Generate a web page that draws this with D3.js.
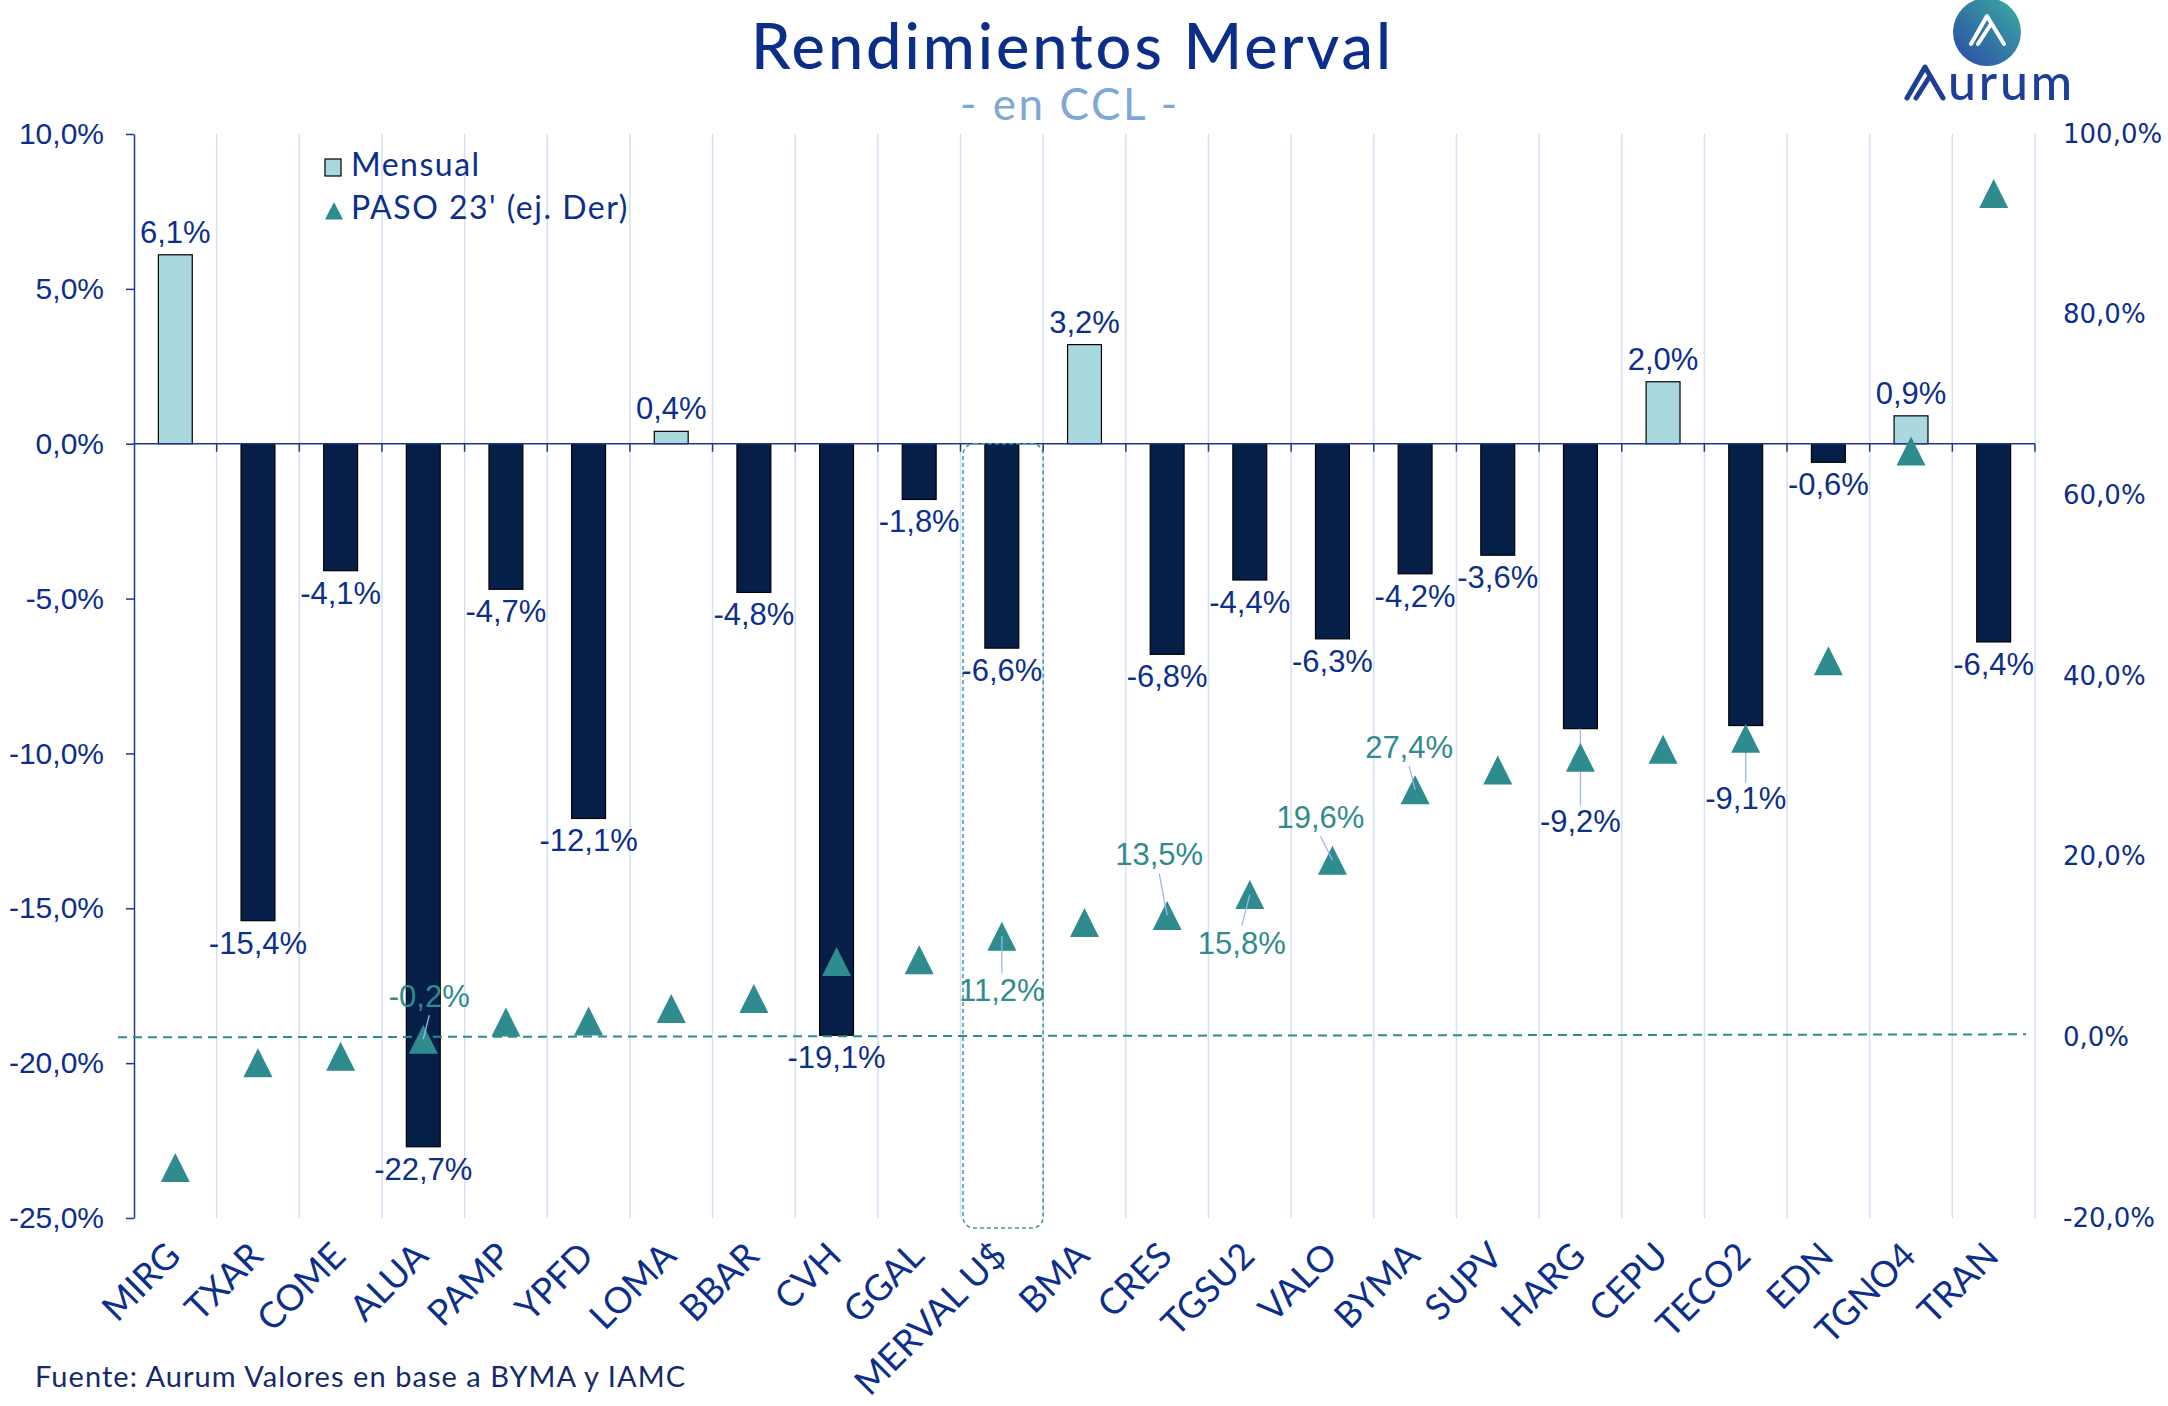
<!DOCTYPE html>
<html>
<head>
<meta charset="utf-8">
<script src="https://cdn.jsdelivr.net/npm/d3@7"></script>
<style>
  html, body { margin: 0; padding: 0; background: #fff; }
  svg { display: block; }
</style>
</head>
<body>
<div id="chart"></div>
<script>
// Rendimientos Merval en CCL
const categories = ["MIRG", "TXAR", "COME", "ALUA", "PAMP", "YPFD", "LOMA", "BBAR", "CVH", "GGAL", "MERVAL U$",
    "BMA", "CRES", "TGSU2", "VALO", "BYMA", "SUPV", "HARG", "CEPU", "TECO2", "EDN", "TGNO4", "TRAN"];
const mensual = [6.1, -15.4, -4.1, -22.7, -4.7, -12.1, 0.4, -4.8, -19.1, -1.8, -6.6,
    3.2, -6.8, -4.4, -6.3, -4.2, -3.6, -9.2, 2.0, -9.1, -0.6, 0.9, -6.4];
const paso = [-14.4, -2.8, -2.1, -0.2, 1.7, 1.8, 3.2, 4.3, 8.4, 8.6, 11.2,
    12.7, 13.5, 15.8, 19.6, 27.4, 29.6, 31.0, 31.9, 33.1, 41.7, 64.9, 93.4];
const leftTicks = [-25, -20, -15, -10, -5, 0, 5, 10];
const rightTicks = [-20, 0, 20, 40, 60, 80, 100];
// which PASO points carry a label
const pasoLabeled = ["ALUA", "MERVAL U$", "CRES", "TGSU2", "VALO", "BYMA"];

const width = 2168, height = 1406;
const marginLeft = 134, plotRight = 2035, marginTop = 134, plotBottom = 1218;

const navy = "#0c2f8c";
const teal = "#2e8b8e";

const fmt = v => v.toFixed(1).replace(".", ",") + "%";

const svg = d3.select("#chart").append("svg")
    .attr("width", width)
    .attr("height", height)
    .attr("viewBox", [0, 0, width, height]);

const x = d3.scaleBand()
    .domain(categories)
    .range([marginLeft, plotRight]);

const yL = d3.scaleLinear().domain([-25, 10]).range([plotBottom, marginTop]);
const yR = d3.scaleLinear().domain([-20, 100]).range([plotBottom, marginTop]);

const barW = x.bandwidth() * 0.41;

// vertical grid lines at the category boundaries
const bounds = categories.map(d => x(d)).concat([plotRight]);
svg.append("g")
    .selectAll("line")
    .data(bounds.slice(1))
    .join("line")
    .attr("x1", d => d).attr("x2", d => d)
    .attr("y1", marginTop).attr("y2", plotBottom)
    .attr("stroke", "#d6e0f4")
    .attr("stroke-width", 1.5);

// left axis
svg.append("g")
    .attr("transform", `translate(${marginLeft},0)`)
    .call(d3.axisLeft(yL).tickValues(leftTicks).tickSize(8).tickSizeOuter(0).tickPadding(22).tickFormat(fmt))
    .call(g => g.selectAll("path, line").attr("stroke", "#1a3a90").attr("stroke-width", 1.5))
    .call(g => g.selectAll("text")
        .attr("font-family", "'Liberation Sans', Arial, sans-serif")
        .attr("font-size", 30)
        .attr("fill", navy));

// right axis (PASO), no line
svg.append("g")
    .attr("transform", `translate(${plotRight},0)`)
    .call(d3.axisRight(yR).tickValues(rightTicks).tickSize(0).tickPadding(28).tickFormat(fmt))
    .call(g => g.select(".domain").remove())
    .call(g => g.selectAll("text")
        .attr("font-family", "'DejaVu Sans', sans-serif")
        .attr("font-size", 26)
        .attr("fill", navy));

// bars
svg.append("g")
    .selectAll("rect")
    .data(categories)
    .join("rect")
    .attr("x", (d, i) => x(d) + (x.bandwidth() - barW) / 2)
    .attr("width", barW)
    .attr("y", (d, i) => yL(Math.max(0, mensual[i])))
    .attr("height", (d, i) => Math.abs(yL(mensual[i]) - yL(0)))
    .attr("fill", (d, i) => mensual[i] >= 0 ? "#a9d8df" : "#061f48")
    .attr("stroke", "#000")
    .attr("stroke-width", 1.2);

// zero line with ticks on category boundaries
svg.append("line")
    .attr("x1", marginLeft).attr("x2", plotRight)
    .attr("y1", yL(0)).attr("y2", yL(0))
    .attr("stroke", "#1a3a90").attr("stroke-width", 1.5);
svg.append("g")
    .selectAll("line")
    .data(bounds.slice(1))
    .join("line")
    .attr("x1", d => d).attr("x2", d => d)
    .attr("y1", yL(0)).attr("y2", yL(0) + 8)
    .attr("stroke", "#1a3a90").attr("stroke-width", 1.5);

// dashed box around MERVAL U$
svg.append("rect")
    .attr("x", x("MERVAL U$") + 2.5)
    .attr("y", yL(0))
    .attr("width", x.bandwidth() - 2.5)
    .attr("height", plotBottom + 10 - yL(0))
    .attr("rx", 11)
    .attr("fill", "none")
    .attr("stroke", "#3b9a9b")
    .attr("stroke-width", 1.5)
    .attr("stroke-dasharray", "4 3");

// dashed reference line at PASO 0%
svg.append("line")
    .attr("x1", marginLeft - 16).attr("x2", plotRight - 9)
    .attr("y1", yR(0)).attr("y2", yR(0) - 3)
    .attr("stroke", teal)
    .attr("stroke-width", 2)
    .attr("stroke-dasharray", "9 6");

// bar labels
const labelShift = { "HARG": 70, "TECO2": 50 };
const barLabels = svg.append("g")
    .attr("font-family", "'Liberation Sans', Arial, sans-serif")
    .attr("font-size", 31)
    .attr("fill", navy)
    .attr("text-anchor", "middle");

categories.forEach((c, i) => {
    const v = mensual[i];
    const cx = x(c) + x.bandwidth() / 2;
    const extra = labelShift[c] || 0;
    const yy = v >= 0 ? yL(v) - 12 : yL(v) + 33 + extra;
    if (extra) {
        svg.append("line")
            .attr("x1", cx).attr("x2", cx)
            .attr("y1", yL(v)).attr("y2", yy - 26)
            .attr("stroke", "#9fb6ea").attr("stroke-width", 1.3);
    }
    barLabels.append("text")
        .attr("x", cx)
        .attr("y", yy)
        .text(fmt(v));
});

// PASO markers
const tri = "M0,-14.5L14.5,14.5L-14.5,14.5Z";
svg.append("g")
    .selectAll("path")
    .data(categories)
    .join("path")
    .attr("d", tri)
    .attr("transform", (d, i) => `translate(${x(d) + x.bandwidth() / 2},${yR(paso[i])})`)
    .attr("fill", teal);

// PASO labels with leader lines
const pasoOffset = {
    "ALUA": [6, -42],
    "MERVAL U$": [0, 55],
    "CRES": [-8, -60],
    "TGSU2": [-8, 49],
    "VALO": [-12, -42],
    "BYMA": [-6, -42]
};
pasoLabeled.forEach(c => {
    const i = categories.indexOf(c);
    const px = x(c) + x.bandwidth() / 2;
    const py = yR(paso[i]);
    const [dx, dy] = pasoOffset[c];
    const lx = px + dx, ly = py + dy;
    const edge = dy < 0 ? ly + 18 : ly - 18;
    svg.append("line")
        .attr("x1", lx).attr("y1", edge)
        .attr("x2", px).attr("y2", py)
        .attr("stroke", "#9fb6ea").attr("stroke-width", 1.3);
    svg.append("text")
        .attr("x", lx)
        .attr("y", ly + 10)
        .attr("text-anchor", "middle")
        .attr("font-family", "'Liberation Sans', Arial, sans-serif")
        .attr("font-size", 31)
        .attr("fill", teal)
        .text(fmt(paso[i]));
});

// category labels
svg.append("g")
    .selectAll("text")
    .data(categories)
    .join("text")
    .attr("transform", d => `translate(${x(d) + x.bandwidth() / 2 + 7},${plotBottom + 40}) rotate(-45)`)
    .attr("text-anchor", "end")
    .attr("font-family", "Lato, sans-serif")
    .attr("font-size", 36)
    .attr("fill", navy)
    .text(d => d);

// legend
const legend = svg.append("g")
    .attr("font-family", "Lato, sans-serif")
    .attr("font-size", 32)
    .attr("fill", navy);
legend.append("rect")
    .attr("x", 325).attr("y", 159).attr("width", 16).attr("height", 17)
    .attr("fill", "#a9d8df").attr("stroke", "#000").attr("stroke-width", 1.2);
legend.append("text").attr("x", 351).attr("y", 176).attr("letter-spacing", 1.5).text("Mensual");
legend.append("path")
    .attr("d", "M0,-9L9,8.5L-9,8.5Z")
    .attr("transform", "translate(334,211)")
    .attr("fill", teal);
legend.append("text").attr("x", 351).attr("y", 219).attr("letter-spacing", 1.5).text("PASO 23' (ej. Der)");

// titles
svg.append("text")
    .attr("x", 751).attr("y", 69)
    .attr("textLength", 640).attr("lengthAdjust", "spacing")
    .attr("font-family", "Lato, sans-serif")
    .attr("font-weight", 500)
    .attr("font-size", 63)
    .attr("fill", "#0a2e8a")
    .text("Rendimientos Merval");
svg.append("text")
    .attr("x", 960).attr("y", 120)
    .attr("textLength", 217).attr("lengthAdjust", "spacing")
    .attr("font-family", "Lato, sans-serif")
    .attr("font-size", 44)
    .attr("fill", "#7ea8d3")
    .text("- en CCL -");

// source
svg.append("text")
    .attr("x", 35).attr("y", 1387)
    .attr("textLength", 650).attr("lengthAdjust", "spacing")
    .attr("font-family", "Lato, sans-serif")
    .attr("font-size", 29)
    .attr("fill", "#14296b")
    .text("Fuente: Aurum Valores en base a BYMA y IAMC");

// logo
const defs = svg.append("defs");
const grad = defs.append("linearGradient")
    .attr("id", "logoGrad")
    .attr("x1", "0%").attr("y1", "100%").attr("x2", "100%").attr("y2", "0%");
grad.append("stop").attr("offset", "0%").attr("stop-color", "#2a48a8");
grad.append("stop").attr("offset", "100%").attr("stop-color", "#3cae9f");
const logo = svg.append("g");
logo.append("circle").attr("cx", 1987).attr("cy", 32).attr("r", 34).attr("fill", "url(#logoGrad)");
logo.append("path")
    .attr("d", "M1971,44 L1987,16 L2004,44 M1978,44 L1991,24")
    .attr("fill", "none").attr("stroke", "#fff").attr("stroke-width", 4)
    .attr("stroke-linecap", "round").attr("stroke-linejoin", "round");
logo.append("path")
    .attr("d", "M1907,98 L1925,67 L1943,98 M1916,98 L1930,76")
    .attr("fill", "none").attr("stroke", "#1d3f97").attr("stroke-width", 5)
    .attr("stroke-linecap", "round").attr("stroke-linejoin", "round");
logo.append("text")
    .attr("x", 1948).attr("y", 100)
    .attr("textLength", 124).attr("lengthAdjust", "spacing")
    .attr("font-family", "Lato, sans-serif")
    .attr("font-weight", 500)
    .attr("font-size", 50)
    .attr("fill", "#1d3f97")
    .text("urum");
</script>
</body>
</html>
